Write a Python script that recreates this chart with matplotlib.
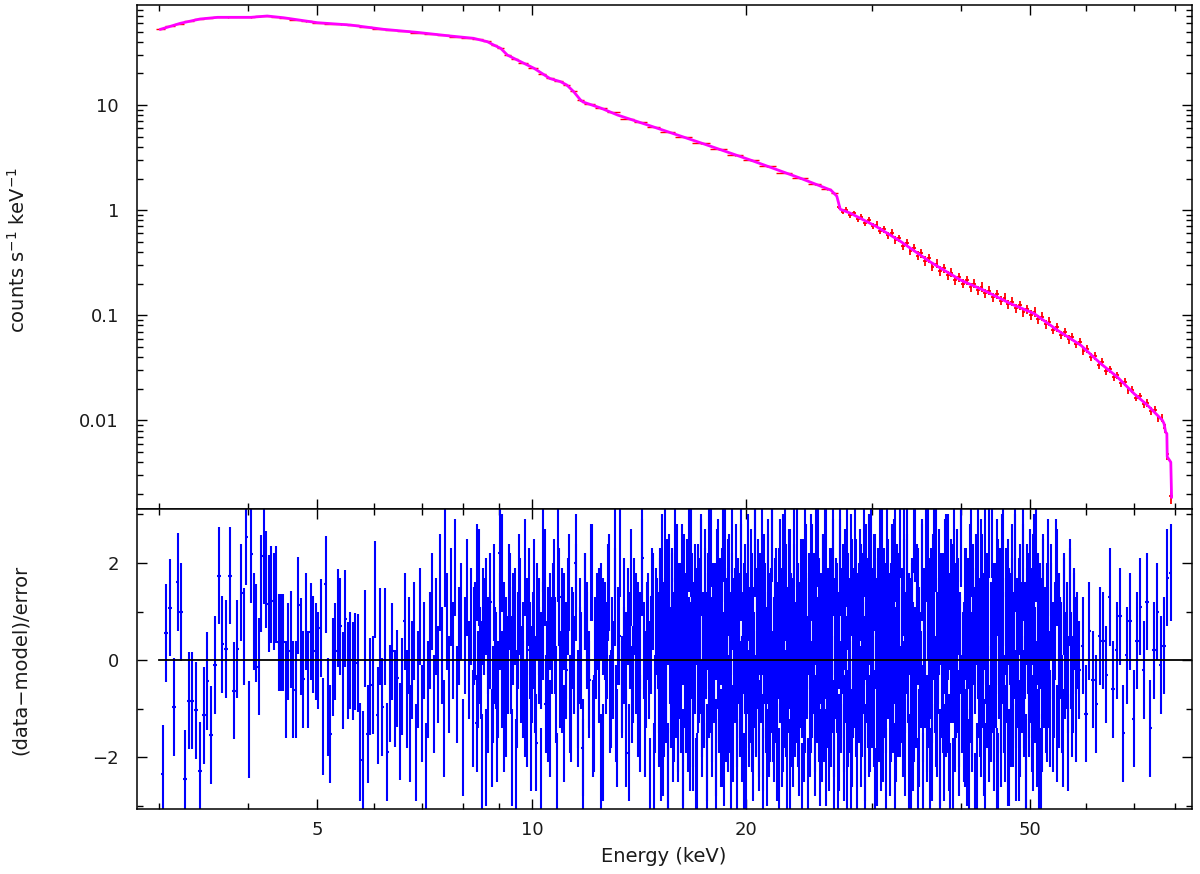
import numpy as np
import matplotlib
matplotlib.use("Agg")
import matplotlib.pyplot as plt
from matplotlib.ticker import FixedLocator, FixedFormatter, NullFormatter, LogLocator

plt.rcParams['font.family'] = ['DejaVu Sans']
plt.rcParams['mathtext.fontset'] = 'dejavusans'

# ---------------- model curve (magenta) ----------------
model_energy = [3.01, 3.21, 3.42, 3.62, 4.03, 4.25, 4.48, 5.0, 5.56, 6.19, 6.90, 7.69, 8.28,
                8.66, 8.84, 9.04, 9.24, 9.43, 10.07, 10.6, 10.97, 11.2, 11.45, 11.7, 11.8,
                12.5, 13.2, 14.7, 17.3, 20.3, 23.8, 26.3, 26.8, 27.1, 28.0, 30.4, 32.9, 36.3,
                40.0, 43.1, 47.0, 50.7, 54.7, 59.0, 62.9, 66.4, 70.1, 73.2, 76.8, 77.2, 77.6,
                77.9, 78.0, 78.9, 79.1]
model_counts = [52.6, 60.0, 65.9, 68.4, 68.4, 70.4, 67.8, 60.8, 57.8, 52.6, 49.2, 45.4, 43.2,
                40.1, 37.3, 34.7, 29.9, 27.9, 22.4, 17.9, 16.7, 15.5, 13.4, 11.2, 10.7,
                9.36, 8.03, 6.31, 4.35, 2.99, 2.02, 1.55, 1.36, 1.02, 0.936, 0.704, 0.507, 0.320,
                0.216, 0.173, 0.129, 0.104, 0.072, 0.0518, 0.0347, 0.0258, 0.0179, 0.0139, 0.0100,
                0.0093, 0.0077, 0.0075, 0.0045, 0.0040, 0.00186]

# ---------------- data points (red) ----------------
data_energy_low = [3.01, 3.1, 3.2, 3.3, 3.42, 3.52, 3.62, 3.75, 3.9, 4.03,
                   4.15, 4.25, 4.36, 4.48, 4.65, 4.82, 5.0, 5.2, 5.4, 5.6,
                   5.85, 6.1, 6.35, 6.6, 6.9, 7.2, 7.5, 7.8, 8.1, 8.4,
                   8.66, 8.84, 9.04, 9.24, 9.43, 9.7, 10.07, 10.35, 10.6, 10.9,
                   11.2, 11.45, 11.7, 12.0, 12.5, 13.0, 13.6, 14.2, 14.8, 15.5,
                   16.3, 17.3, 18.3, 19.3, 20.3, 21.4, 22.6, 23.8, 25.0, 26.0,
                   26.6]
data_counts_low = [52.9, 56.3, 59.6, 62.8, 65.6, 67.5, 68.6, 68.2, 68.6, 68.2,
                   69.9, 70.7, 69.5, 67.6, 65.0, 62.6, 61.0, 59.6, 58.5, 57.5,
                   55.2, 53.4, 51.7, 50.4, 49.0, 47.6, 46.3, 44.9, 43.9, 42.5,
                   40.3, 37.0, 34.9, 30.1, 27.7, 25.2, 22.5, 19.8, 18.0, 16.9,
                   15.4, 13.5, 11.1, 10.3, 9.3, 8.5, 7.45, 6.85, 6.2, 5.6,
                   4.98, 4.36, 3.82, 3.36, 2.99, 2.62, 2.28, 2.02, 1.79, 1.60,
                   1.45]
data_relerr_low = [0.004, 0.004, 0.004, 0.004, 0.004, 0.004, 0.004, 0.004, 0.004, 0.004,
                   0.004, 0.004, 0.004, 0.004, 0.004, 0.004, 0.004, 0.004, 0.004, 0.004,
                   0.005, 0.005, 0.005, 0.005, 0.005, 0.005, 0.005, 0.005, 0.005, 0.005,
                   0.006, 0.006, 0.006, 0.006, 0.006, 0.006, 0.007, 0.007, 0.007, 0.007,
                   0.008, 0.008, 0.008, 0.008, 0.009, 0.009, 0.010, 0.010, 0.011, 0.011,
                   0.012, 0.013, 0.014, 0.015, 0.016, 0.017, 0.018, 0.019, 0.020, 0.021,
                   0.022]
data_energy_high = [27.0, 27.3, 27.6, 28.0, 28.3, 28.7, 29.0, 29.4, 29.7, 30.1,
                    30.5, 30.8, 31.2, 31.6, 32.0, 32.4, 32.8, 33.2, 33.6, 34.0,
                    34.4, 34.8, 35.2, 35.7, 36.1, 36.5, 37.0, 37.4, 37.9, 38.4,
                    38.8, 39.3, 39.8, 40.3, 40.8, 41.3, 41.8, 42.3, 42.8, 43.3,
                    43.9, 44.4, 45.0, 45.5, 46.1, 46.6, 47.2, 47.8, 48.4, 49.0,
                    49.6, 50.2, 50.8, 51.4, 52.0, 52.7, 53.3, 54.0, 54.6, 55.3,
                    56.0, 56.7, 57.4, 58.1, 58.8, 59.5, 60.2, 61.0, 61.7, 62.5,
                    63.2, 64.0, 64.8, 65.6, 66.4, 67.2, 68.0, 68.8, 69.7, 70.5,
                    71.4, 72.3, 73.1, 74.0, 74.9, 75.8, 76.7, 77.4, 78.0, 79.0]
data_counts_high = [1.07, 0.97, 1.01, 0.90, 0.94, 0.83, 0.87, 0.76, 0.80, 0.71,
                    0.73, 0.64, 0.66, 0.58, 0.61, 0.52, 0.54, 0.46, 0.49, 0.41,
                    0.44, 0.37, 0.39, 0.33, 0.35, 0.29, 0.31, 0.265, 0.28, 0.24,
                    0.255, 0.215, 0.232, 0.20, 0.215, 0.186, 0.20, 0.174, 0.187, 0.162,
                    0.172, 0.149, 0.158, 0.138, 0.147, 0.127, 0.135, 0.117, 0.124, 0.107,
                    0.115, 0.101, 0.108, 0.092, 0.097, 0.082, 0.087, 0.073, 0.077, 0.065,
                    0.069, 0.059, 0.062, 0.053, 0.056, 0.046, 0.048, 0.040, 0.041, 0.034,
                    0.036, 0.0295, 0.0305, 0.026, 0.027, 0.0225, 0.0232, 0.0194, 0.0196, 0.0165,
                    0.0170, 0.0142, 0.0147, 0.0123, 0.0126, 0.0105, 0.0106, 0.0084, 0.0048, 0.0019]
data_relerr_high = [0.05, 0.05, 0.05, 0.055, 0.055, 0.06, 0.06, 0.065, 0.065, 0.07,
                    0.07, 0.075, 0.075, 0.08, 0.08, 0.085, 0.085, 0.09, 0.09, 0.095,
                    0.095, 0.10, 0.10, 0.10, 0.10, 0.10, 0.10, 0.10, 0.10, 0.10,
                    0.10, 0.10, 0.10, 0.10, 0.10, 0.10, 0.10, 0.10, 0.10, 0.10,
                    0.10, 0.10, 0.10, 0.10, 0.10, 0.10, 0.10, 0.10, 0.10, 0.10,
                    0.10, 0.10, 0.10, 0.10, 0.10, 0.095, 0.095, 0.09, 0.09, 0.09,
                    0.09, 0.09, 0.09, 0.085, 0.085, 0.085, 0.085, 0.085, 0.085, 0.085,
                    0.08, 0.08, 0.08, 0.08, 0.08, 0.08, 0.08, 0.08, 0.08, 0.08,
                    0.08, 0.08, 0.08, 0.08, 0.08, 0.08, 0.08, 0.10, 0.12, 0.15]

# ---------------- residuals (blue), grouped by energy range ----------------
resid_ranges = [(3.03, 3.86), (3.91, 6.63), (6.67, 15.0), (15.05, 33.0),
                (33.1, 53.0), (53.1, 58.3), (58.7, 78.9),
                (8.3, 14.95), (15.1, 32.9), (33.2, 52.9), (53.2, 58.1)]
resid_A = [-2.34, 0.56, 1.08, -0.96, 1.61, 0.99, -2.44, -0.83, -0.83, -1.03, -2.28,
           -1.13, -0.43, -1.54, -0.10, 1.74, 0.33, 0.23, 1.74, -0.63, 0.23]
resid_B = [1.39, 0.49, 2.54, -1.42, 2.18, 0.79, 0.56, -0.13, 1.58, 2.15, 1.66, 1.16, 1.35,
           1.21, 1.35, 0.37, 0.37, 0.37, -0.61, 0.18, 0.43, -0.61, -0.61, 1.13, 0.28, -0.39,
           0.80, -0.39, 0.59, 0.32, 0.18, 0.00, 0.66, -1.37, 1.56, -0.96, -1.52, -0.14, 0.18,
           0.87, 0.70, -0.41, 0.85, -0.21, 0.00, -0.22, -0.03, -0.06, -1.89, -2.05, 0.45,
           -1.52, -0.54, -0.51, 1.45, -1.13, 0.49, -0.96, 0.49, -1.89, -0.68, 0.18, -0.79,
           -0.37, -1.47, -0.54, 0.80]
resid_C = [-0.8, 0.3, -1.5, -0.2, 0.6, -1.9, -0.4, 0.9, -1.1, 0.2, -2.3, -0.6, 0.4, 1.2,
           -0.9, 0.7, -0.3, 1.6, 0.1, -1.4, 2.1, 0.8, -0.5, 1.3, 0.2, 1.9, -0.7, 0.5, 1.0,
           -1.8, 0.3, 1.5, -0.2, 0.9, -1.2, 0.6, 1.8, -0.4, 0.1, -2.1, 0.7, 1.1, -0.9, 0.4,
           -1.6, 1.4, 0.0, -0.6, 0.8, 2.0, -1.3, 0.3, -0.1, 1.2, -2.0, 0.5, 0.9, -0.8, 1.6,
           -0.3, 0.2, -1.0, 0.7, 1.3, -1.7, 0.4, -0.5, 1.0, 0.1, -2.4, 0.6, 1.7, -0.2, -1.1,
           0.8, 0.3, 1.5, -0.7, 2.2, -0.4, 0.9, -1.5, 0.2, 1.1, -0.9, 0.5, -0.1, 1.4, -1.2,
           0.7, 0.0, -2.2, 1.2, 0.4, -0.6, 1.8, -1.4, 0.3, 0.8, -0.3, 1.0, -1.9, 0.6, 0.2,
           1.6, -0.8, -0.2, 1.3, -1.1, 0.5, 2.3, -0.5, 0.1, -1.6, 0.9, 0.4, -0.7, 1.1, -0.1,
           0.6, -1.3, 1.9, 0.2, -0.4, 0.8, -2.6, 0.3, 1.2, -0.9, 0.7]
resid_D = [0.4, -1.2, 1.1, -0.3, 2.0, -1.8, 0.6, 0.1, -0.7, 1.5, -2.3, 0.9, -0.5, 1.3, 0.2,
           -1.1, 0.7, -0.2, 1.8, -1.5, 0.3, 1.0, -0.9, 0.5, -2.0, 1.6, -0.4, 0.8, 0.0, -1.3,
           2.4, -0.6, 0.2, 1.2, -1.7, 0.6, -0.1, 0.9, -2.5, 1.4, -0.3, 0.7, 1.9, -1.0, 0.1,
           -0.8, 1.3, 0.4, -1.9, 0.8, 2.2, -0.5, 0.3, -1.4, 1.0, -0.2, 0.6, -2.2, 1.7, 0.0,
           -0.7, 1.1, 0.5, -1.6, 2.6, -0.4, 0.9, -1.1, 0.2, 1.5, -0.9, 0.4, -2.7, 1.2, 0.7,
           -0.3, 1.8, -1.2, 0.1, 0.8, -0.6, 2.1, -1.5, 0.3, 1.0, -0.1, -2.1, 0.6, 1.4, -0.8,
           0.2, 1.7, -1.3, 0.5, -0.4, 2.3, -1.0, 0.9, 0.0, -1.7, 1.2, -0.2, 0.7, -2.4, 1.6,
           0.4, -0.9, 0.1, 1.9, -1.4, 0.8, -0.5, 2.7, -1.1, 0.3, 1.1, -0.7, -1.9, 0.6, 1.3,
           -0.3, 0.9, -1.6, 2.0, 0.2, -0.8, 1.4, -2.3, 0.5, 0.0, 1.7, -1.2, 0.7, -0.4, 2.5,
           -1.0, 0.3, 1.0, -1.8, 0.6, 1.5, -0.6, 0.1, -1.5, 2.2, 0.8, -0.2, -2.6, 1.2, 0.4,
           -0.9, 1.8, -0.1, 0.6, -1.3, 2.9, -0.7, 0.3, 1.1, -2.0, 0.5, -0.4, 1.6, -1.1, 0.2,
           2.3, -0.8, 0.9, -1.7, 0.0, 1.3, -0.5, 2.6, -1.4, 0.7, -0.2, 1.0, -2.2, 0.4, 1.9,
           -0.9, 0.3, 1.4, -1.9, 0.8, -0.3, 2.1, -1.2, 0.6, 0.1, -2.5, 1.5, -0.6, 0.9, 2.4,
           -1.0, 0.2, -0.7, 1.7, -1.6, 0.4, 1.2, -0.1, -2.1, 1.8, 0.5, -0.8, 2.0, -1.3, 0.3,
           0.9, -0.5, 1.6, -2.8, 0.7, 0.0, 1.1, -1.1, 2.2, -0.4, 0.6, -1.5, 1.3, 0.2, -0.9,
           2.5, -0.2, 0.8, -1.8, 1.0, 0.4, -0.6, 1.9, -2.3, 0.1, 1.4, -1.0, 0.5, 2.7, -0.7]
resid_E = [0.9, -1.4, 2.3, -0.5, 0.3, 1.6, -2.1, 0.7, -0.2, 1.1, -1.7, 2.8, 0.1, -0.8, 1.4,
           -2.6, 0.5, 0.0, 1.9, -1.1, 0.6, -0.4, 2.2, -1.5, 1.0, 0.2, -2.4, 1.3, -0.7, 0.8,
           2.5, -1.2, 0.4, -0.1, 1.7, -2.0, 0.9, -0.6, 1.2, -1.9, 0.3, 2.0, -0.9, 0.6, -2.7,
           1.5, 0.1, -0.3, 2.4, -1.3, 0.8, -0.5, 1.1, -1.8, 0.4, 2.6, -0.8, 0.2, -1.6, 1.3,
           -0.2, 0.7, -2.2, 1.8, 0.0, -1.0, 1.4, 0.5, -2.9, 0.9, 2.1, -0.6, 0.3, -1.4, 1.6,
           -0.1, 0.8, -2.3, 1.2, 0.4, -0.7, 2.7, -1.1, 0.2, 1.0, -1.7, 0.6, -0.4, 1.9, -2.5,
           0.5, 1.3, -0.9, 0.1, 2.3, -1.5, 0.7, -0.2, 1.5, -2.0, 0.8, -0.3, 1.1, -1.2, 0.4,
           2.0, -0.8, 0.0, -1.9, 1.4, 0.6, -0.5, 1.8, -1.0, 0.2, -2.1, 0.9, 1.2, -0.6, 0.3,
           -1.3, 1.6, 0.1, -0.7, 2.2, -1.6, 0.5, -0.2, 1.0, -2.4, 0.7, 1.5, -0.4, 0.2, -1.1, 1.9]
resid_F = [0.5, -1.2, 1.4, 0.2, -0.6, 1.9, -1.5, 0.8, 0.3, -0.9, 1.1, -0.2, 0.6, -1.7, 1.3,
           0.0, -0.5, 0.9, -1.1, 0.4]
resid_G = [-0.2, 0.3, -1.1, 0.6, -0.4, -0.9, 0.5, 0.4, -0.3, 1.3, -0.6, 0.2, 0.9, -1.5, 0.1,
           0.8, -1.2, 0.4, 1.1, -0.2, 1.2, -1.4, 0.2, 1.0, -0.1, 0.3, 1.7, 1.8]
resid_C2 = [0.5, -1.3, 1.7, -0.2, 0.9, -2.0, 0.3, 1.2, -0.7, 0.1, -1.5, 2.2, -0.4, 0.6, -1.0,
            1.4, -0.1, 0.8, -2.2, 0.4, 1.1, -0.6, 1.9, -1.2, 0.2, -0.3, 1.5, -1.7, 0.7, 0.0,
            2.4, -0.9, 0.5, -1.4, 1.0, 0.3, -2.5, 1.3, -0.5, 0.8, -0.2, 1.6, -1.1, 0.4, 2.0,
            -0.8, 0.1, -1.8, 1.2, 0.6, -0.4, 1.8, -1.3, 0.2, 0.9, -2.1, 0.7, -0.1, 1.4, -0.9,
            0.3, 2.3, -1.6, 0.5, -0.6, 1.1, 0.0, -1.9, 1.7, -0.3, 0.8, -1.0, 0.4, 2.1, -1.4,
            0.6, -0.2, 1.3, -2.3, 0.9]
resid_D2 = [-0.5, 1.3, -1.9, 0.7, 0.2, -1.0, 2.1, -0.3, 0.9, -2.4, 1.6, 0.1, -0.8, 1.2, -1.5,
            0.4, 2.6, -0.6, 0.0, -1.3, 1.0, -0.2, 1.8, -2.1, 0.5, 0.8, -0.9, 1.5, -0.4, 0.3,
            -1.7, 2.3, 0.6, -1.2, 0.1, 1.4, -2.6, 0.9, -0.5, 1.1, -0.1, 2.0, -1.4, 0.4, -0.7,
            1.7, 0.2, -2.3, 1.2, -0.6, 0.8, 2.5, -1.1, 0.3, -0.3, 1.0, -1.8, 0.6, 1.9, -0.9,
            0.5, -1.6, 1.3, 0.0, -2.0, 2.2, -0.4, 0.7, -1.3, 1.6, 0.3, -0.8, 2.8, -1.5, 0.2,
            0.9, -0.2, -2.2, 1.1, 0.6, -1.0, 1.8, -0.5, 0.4, -2.5, 1.4, 0.8, -0.1, 2.0, -1.2,
            0.5, -0.7, 1.2, -1.9, 0.0, 2.4, -0.9, 0.3, 1.5, -1.4, 0.7, -0.3, 2.2, -1.7, 0.1,
            1.0, -0.6, -2.0, 1.6, 0.4, -1.1, 0.9, 2.6, -0.4, -1.5, 0.6, 1.3, -0.8, 0.2, -2.4,
            1.9, -0.2, 0.5, -1.3, 1.1, 2.1, -1.0, 0.3, -0.5, 1.7, -2.2, 0.8, 0.0, -1.6, 1.4,
            0.2, -0.7, 2.3, -1.2, 0.6, -0.4, 1.0, -2.7, 1.5, 0.4, -0.9, 1.8, -0.1, 0.7, -1.4,
            2.0, -0.6, 0.3, 1.2, -1.8, 0.9, -0.3, 2.5, -1.1, 0.1, 0.8, -1.5, 1.6, -0.2, 2.2,
            -2.0, 0.5, 0.0, -0.8, 1.3, -1.2, 0.6, 1.9, -2.5, 0.2, 1.1, -0.5, 0.4, -1.7, 2.4,
            -0.6, 0.9, 0.3, -1.3, 1.7, -0.1, -2.1, 1.2, 0.7, -0.9, 2.0, -1.6, 0.1, 0.5, -0.4,
            1.5, -2.3, 0.8, 1.0, -0.7, 1.4, -1.0, 0.2, 2.3, -1.9, 0.6, -0.3, 1.1, -1.4, 0.9,
            2.7, -0.8, 0.0, -1.2, 1.6, 0.4, -2.0, 1.3, -0.5, 0.7, -1.7, 2.1, 0.3, -0.6, 1.0,
            -2.4, 0.8, 1.5, -0.2, 0.5, -1.1, 1.8, -0.9, 0.1, 2.2, -1.5, 0.6, -0.3, 1.2, -1.0]
resid_E2 = [-0.6, 1.5, -1.8, 0.4, 2.1, -0.3, 0.8, -2.2, 1.0, 0.2, -1.1, 2.6, -0.7, 0.5, 1.3,
            -1.6, 0.0, -0.4, 1.8, -2.5, 0.9, 0.3, -1.3, 2.2, -0.8, 1.1, -0.2, -1.9, 1.6, 0.6,
            -0.5, 2.4, -1.4, 0.1, 0.7, -2.1, 1.2, -0.9, 0.4, 1.9, -1.0, 0.2, 2.0, -1.7, 0.8,
            -0.3, 1.4, -2.6, 0.5, 1.0, -0.6, 1.7, -1.2, 0.3, 2.5, -0.9, 0.0, -1.5, 1.3, 0.6,
            -2.0, 1.1, 0.4, -0.7, 2.3, -1.3, 0.9, -0.1, 1.6, -2.3, 0.2, 0.7, -1.0, 1.9, -0.4,
            0.5, -1.8, 2.1, 0.1, -0.8, 1.2, -1.5, 0.6, 2.7, -0.5, -1.1, 1.0, 0.3, -2.4, 1.5,
            -0.2, 0.8, -1.6, 2.0, 0.4, -0.9, 1.3, -0.3, -2.0, 0.9, 0.5, -1.2, 1.8, -0.6, 0.2,
            2.2, -1.9, 0.7, -0.4, 1.1, -1.4, 0.0, 2.4, -0.8, 0.6, -2.2, 1.4, 0.3, -1.0, 1.7,
            -0.3, 0.9, -1.7, 2.0, 0.1, -0.6, 1.2, -2.1, 0.8, 0.4, -1.3, 1.6, -0.2, 0.5, -0.9, 1.0]
resid_F2 = [-0.4, 1.0, -1.3, 0.6, 1.7, -0.8, 0.2, -1.6, 1.2, 0.0, -0.5, 1.5, -1.0, 0.8, 0.3]
resid_groups = [resid_A, resid_B, resid_C, resid_D, resid_E, resid_F, resid_G,
                resid_C2, resid_D2, resid_E2, resid_F2]

# ---------------- ticks ----------------
x_major = [5, 10, 20, 50]
x_major_labels = ['5', '10', '20', '50']
x_minor = [3, 4, 6, 7, 8, 9, 30, 40, 60, 70, 80]
y_top_major = [0.01, 0.1, 1, 10]
y_top_labels = ['0.01', '0.1', '1', '10']
y_res_major = [-2, 0, 2]
y_res_labels = ['\u22122', '0', '2']
y_res_minor = [-3, -1, 1, 3]


def log_bin_edges(centers):
    lc = np.log10(np.asarray(centers, float))
    mids = (lc[1:] + lc[:-1]) / 2.0
    lo = np.concatenate([[lc[0] - (mids[0] - lc[0])], mids])
    hi = np.concatenate([mids, [lc[-1] + (lc[-1] - mids[-1])]])
    return 10 ** lo, 10 ** hi


fig = plt.figure(figsize=(12, 8.74), dpi=100)
L, W = 137 / 1200, (1192 - 137) / 1200
ax1 = fig.add_axes([L, 1 - 508.5 / 874, W, (508.5 - 5) / 874])
ax2 = fig.add_axes([L, 1 - 808.5 / 874, W, (808.5 - 508.5) / 874])

XLIM = (2.79, 84.5)

# top panel: data (red) then model (magenta)
for dE, dC, dR, lw in ((data_energy_low, data_counts_low, data_relerr_low, 1.0),
                       (data_energy_high, data_counts_high, data_relerr_high, 1.3)):
    n = min(len(dE), len(dC), len(dR))
    dE = np.asarray(dE[:n], float)
    dC = np.asarray(dC[:n], float)
    dR = np.asarray(dR[:n], float)
    lo, hi = log_bin_edges(dE)
    ax1.errorbar(dE, dC, yerr=dC * dR, xerr=[dE - lo, hi - dE], fmt='none',
                 ecolor='#ff0000', elinewidth=lw, capsize=0, zorder=2)
ax1.plot(model_energy, model_counts, color='#ff00ff', lw=2.0, zorder=3)
ax1.set_xscale('log')
ax1.set_yscale('log')
ax1.set_xlim(*XLIM)
ax1.set_ylim(0.00145, 89.6)

# bottom panel: residuals
for (elo, ehi), vals in zip(resid_ranges, resid_groups):
    c = np.geomspace(elo, ehi, len(vals))
    blo, bhi = log_bin_edges(c)
    ax2.errorbar(c, vals, yerr=1.0, xerr=[c - blo, bhi - c], fmt='none',
                 ecolor='#0000ff', elinewidth=1.5, capsize=0, zorder=2)
ax2.plot([3.0, 100], [0, 0], color='black', lw=1.3, zorder=4)
ax2.set_xscale('log')
ax2.set_xlim(*XLIM)
ax2.set_ylim(-3.05, 3.12)

for ax in (ax1, ax2):
    ax.xaxis.set_major_locator(FixedLocator(x_major))
    ax.xaxis.set_minor_locator(FixedLocator(x_minor))
    ax.xaxis.set_minor_formatter(NullFormatter())
    ax.tick_params(which='both', direction='in', top=True, right=True, width=1.0,
                   color='black', labelcolor='#1a1a1a', labelsize=13)
    ax.tick_params(which='major', length=7.5)
    ax.tick_params(which='minor', length=4.5)
    ax.tick_params(axis='y', pad=13)
    ax.tick_params(axis='x', pad=9)
    for s in ax.spines.values():
        s.set_linewidth(1.1)
        s.set_color('black')

ax1.xaxis.set_major_formatter(NullFormatter())
ax2.xaxis.set_major_formatter(FixedFormatter(x_major_labels))

ax1.yaxis.set_major_locator(FixedLocator(y_top_major))
ax1.yaxis.set_major_formatter(FixedFormatter(y_top_labels))
ax1.yaxis.set_minor_locator(LogLocator(base=10, subs=(2, 3, 4, 5, 6, 7, 8, 9), numticks=20))
ax1.yaxis.set_minor_formatter(NullFormatter())

ax2.yaxis.set_major_locator(FixedLocator(y_res_major))
ax2.yaxis.set_major_formatter(FixedFormatter(y_res_labels))
ax2.yaxis.set_minor_locator(FixedLocator(y_res_minor))
ax2.yaxis.set_minor_formatter(NullFormatter())

fig.text(18 / 1200, 1 - 250 / 874, r'counts s$^{-1}$ keV$^{-1}$', rotation=90,
         ha='center', va='center', fontsize=14, color='#1a1a1a')
fig.text(20 / 1200, 1 - 660 / 874, '(data\u2212model)/error', rotation=90,
         ha='center', va='center', fontsize=14, color='#1a1a1a')
fig.text(664 / 1200, 1 - 857 / 874, 'Energy (keV)', ha='center', va='center',
         fontsize=14, color='#1a1a1a')

fig.savefig('out.png', dpi=100)
